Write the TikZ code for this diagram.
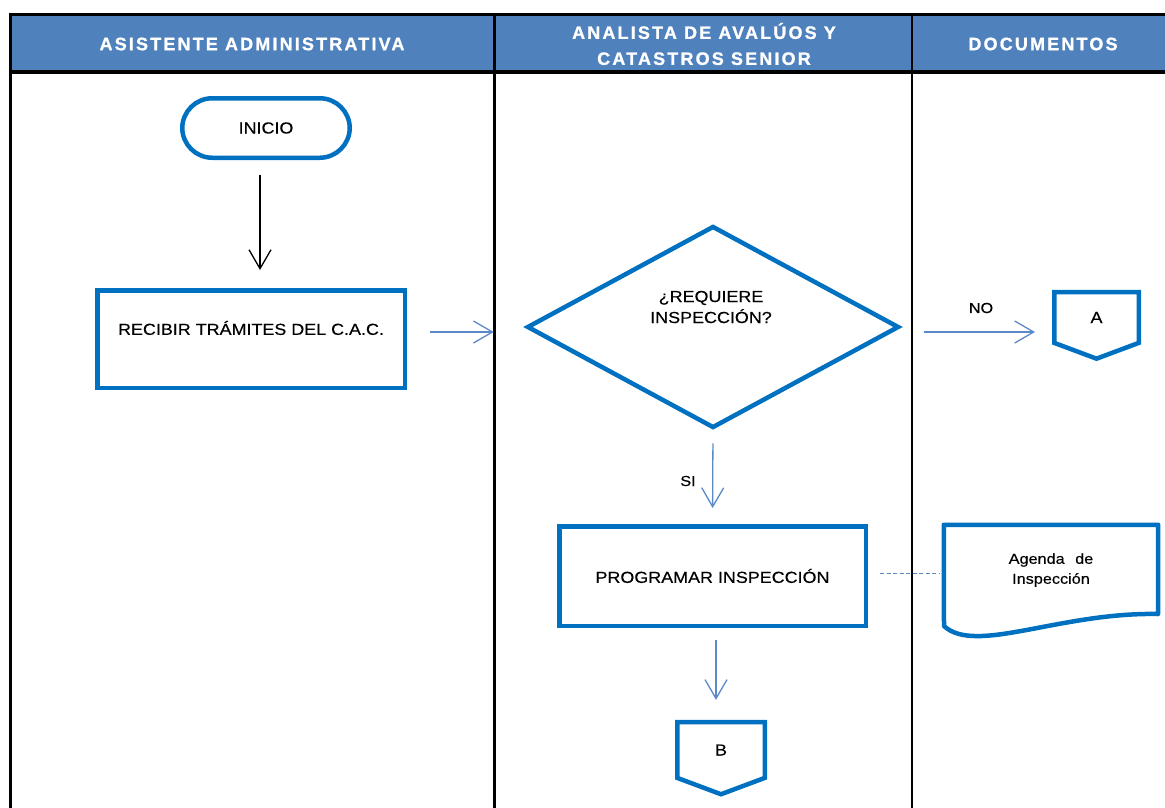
\documentclass[tikz,border=0pt]{standalone}
\usepackage{fontspec}
\setmainfont{Liberation Sans}
\newfontfamily\bodyfont{Liberation Sans}[FakeStretch=1.12, FakeBold=0.3]
\newfontfamily\hdrfont{Liberation Sans Bold}[LetterSpace=12, FakeBold=1]
\usetikzlibrary{arrows.meta,shapes.geometric,shapes.symbols}
\definecolor{boxblue}{HTML}{0070C0}
\definecolor{hdrblue}{HTML}{4F81BD}
\definecolor{linkblue}{HTML}{5B88C6}

\tikzset{
  proc/.style={draw=boxblue, line width=4.5pt, fill=white, inner sep=0pt,
    align=center, font=\bodyfont\fontsize{16}{21}\selectfont},
  terminal/.style={proc, rounded corners=30pt},
  decision/.style={proc, shape=diamond},
  offpage/.style={proc, shape=signal, signal to=south, signal from=nowhere,
    signal pointer angle=139},
  plaintext/.style={inner sep=0pt, align=center,
    font=\bodyfont\fontsize{16}{21}\selectfont},
  smalltext/.style={inner sep=0pt, align=center,
    font=\bodyfont\fontsize{14.5}{20}\selectfont},
  hdrtext/.style={inner sep=0pt, align=center, text=white,
    font=\hdrfont\fontsize{18}{26}\selectfont},
  flow/.style={draw=linkblue, line width=1.3pt,
    -{Straight Barb[length=19pt,width=22pt,line width=1.3pt]}},
  mainflow/.style={draw=black, line width=1.3pt,
    -{Straight Barb[length=19pt,width=22pt,line width=1.3pt]}},
  assoc/.style={draw=linkblue, line width=1pt, dash pattern=on 4pt off 2.5pt},
  tableline/.style={draw=black, line width=3.5pt},
  laneline/.style={draw=black, line width=2.2pt},
}

\begin{document}
\begin{tikzpicture}[x=1pt,y=-1pt]
\useasboundingbox (0,0) rectangle (1165,807);

% swimlane table
\fill[hdrblue] (10,16) rectangle (1172,71);
\draw[tableline] (8.5,14.7) -- (1172,14.7);
\draw[tableline] (8.5,72) -- (1172,72);
\draw[tableline] (10.5,13) -- (10.5,810);
\draw[laneline] (494.5,13) -- (494.5,810);
\draw[laneline] (912,13) -- (912,810);

\node[hdrtext] (lane1) at (252,44) {ASISTENTE ADMINISTRATIVA};
\node[hdrtext] (lane2) at (704,44) {ANALISTA DE AVALÚOS Y\\CATASTROS SENIOR};
\node[hdrtext] (lane3) at (1043,44) {DOCUMENTOS};

% process nodes
\node[terminal, minimum width=167.5, minimum height=59.5] (inicio) at (266,128) {INICIO};
\node[proc, minimum width=307.5, minimum height=97.5] (recibir) at (251,339) {};
\node[plaintext] (recibirtxt) at (251,328) {RECIBIR TRÁMITES DEL C.A.C.};
\node[decision, minimum width=372, minimum height=202] (decide) at (713,327) {};
\node[plaintext] (decidetxt) at (711,307) {¿REQUIERE\\INSPECCIÓN?};
\node[offpage, minimum width=84.5, minimum height=53] (conA) at (1096.5,317.5) {A};
\node[proc, minimum width=306.5, minimum height=99.5] (programar) at (712.5,576) {PROGRAMAR INSPECCIÓN};
\node[offpage, minimum width=87.5, minimum height=58] (conB) at (721,750) {B};

% document symbol
\node[smalltext, minimum width=214, minimum height=90] (agenda) at (1051,570)
  {Agenda\hspace{6pt} de\\Inspección};
\draw[draw=boxblue, line width=4.5pt, line join=round]
  (agenda.north west) -- (agenda.north east) -- (1158,614)
  .. controls (1060,612) and (975,655) .. (944,626) -- cycle;

% connectors
\draw[mainflow, shorten <=15pt, shorten >=18pt]
  ([xshift=-6pt]inicio.south) -- ([xshift=9pt]recibir.north);
\draw[flow, shorten <=23pt, shorten >=31pt]
  ([yshift=7pt]recibir.east) -- ([yshift=-5pt]decide.west);
\draw[flow, shorten <=23pt, shorten >=17pt]
  ([yshift=-5pt]decide.east) -- ([yshift=-5pt]decide.east -| conA.west);
\node[smalltext] (nolabel) at (981,308) {NO};
\draw[flow, shorten <=13pt, shorten >=16pt] (decide.south) -- (programar.north);
\node[smalltext] (silabel) at (688,481) {SI};
\draw[assoc, shorten <=12pt, shorten >=4pt]
  ([yshift=3pt]programar.east) -- ([yshift=3pt]programar.east -| agenda.west);
\draw[flow, shorten <=12pt, shorten >=20pt]
  ([xshift=3.5pt]programar.south) -- ([xshift=3.5pt]programar.south |- conB.north);
\end{tikzpicture}
\end{document}
